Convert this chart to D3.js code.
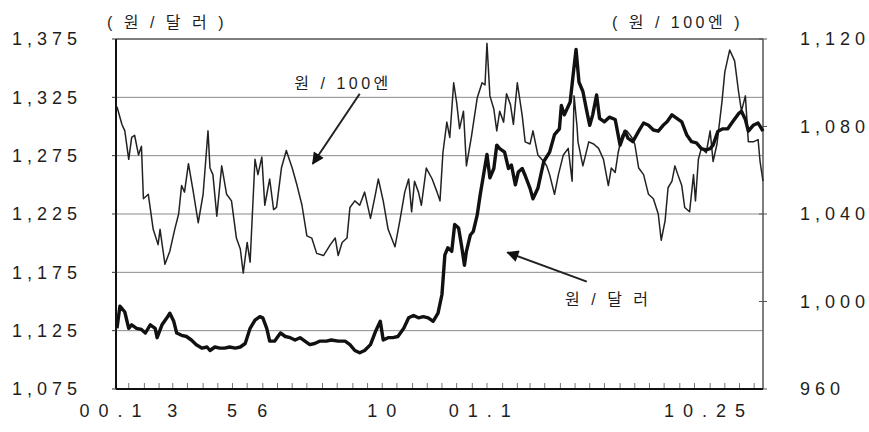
<!DOCTYPE html>
<meta charset="utf-8">
<head>
<title>원/달러, 원/100엔</title>
<script src="https://cdn.jsdelivr.net/npm/d3@7"></script>
<style>
  body { margin: 0; background: #fff; }
  text { font-family: "Liberation Sans", Arial, "Noto Sans CJK KR", sans-serif; fill: #1e1e1e; }
  .tick-label { font-size: 18px; letter-spacing: 5px; }
  .x-label { font-size: 18px; letter-spacing: 9px; }
  .unit, .note { font-size: 16px; letter-spacing: 3.5px; }
  .grid line { stroke: #8a8a8a; stroke-width: 1; }
</style>
</head>
<body>
<div id="chart"></div>
<script>
// days counted from 2000-01-03
var startDate = new Date(2000, 0, 3);
var lastDay = 661;

// 원/100엔 (right axis)
var yenDays = [1,6,9,13,16,19,23,26,28,33,38,43,45,50,55,60,64,67,70,74,79,84,89,94,96,99,103,108,113,118,
  123,127,130,134,137,142,145,149,152,157,161,164,169,174,180,185,190,195,200,205,212,219,224,227,231,236,
  239,244,249,254,260,265,268,273,278,285,290,295,299,302,305,309,312,317,323,328,331,334,338,341,345,348,
  351,355,358,363,369,374,377,379,382,386,389,392,396,399,403,406,410,415,418,423,426,431,437,440,443,448,
  452,457,462,466,468,471,472,477,483,488,493,498,503,506,510,513,517,522,527,530,534,539,544,549,554,557,
  561,564,568,571,574,578,581,586,590,592,595,598,603,607,610,614,619,622,627,632,636,639,643,646,651,656,658,661];
var yenValues = [1089,1081,1078,1065,1075,1076,1067,1071,1047,1049,1033,1026,1033,1017,1023,1033,1040,1053,1050,1063,
  1050,1036,1049,1078,1061,1058,1039,1062,1049,1046,1029,1024,1013,1027,1018,1065,1058,1066,1044,1056,1042,1043,
  1061,1069,1061,1053,1044,1030,1029,1022,1021,1026,1029,1021,1027,1029,1043,1046,1044,1050,1038,1049,1056,1046,
  1033,1025,1037,1050,1056,1041,1055,1050,1044,1061,1056,1050,1046,1068,1082,1075,1100,1091,1079,1087,1062,1075,
  1093,1100,1099,1118,1094,1088,1078,1087,1082,1095,1090,1081,1100,1085,1073,1072,1078,1067,1064,1062,1058,1049,
  1058,1067,1070,1055,1094,1080,1073,1062,1073,1072,1070,1065,1053,1061,1059,1068,1076,1078,1075,1072,1061,1058,
  1049,1047,1040,1028,1037,1052,1055,1062,1058,1053,1043,1041,1058,1046,1065,1070,1068,1078,1064,1072,1091,1105,
  1115,1110,1096,1087,1094,1073,1073,1074,1064,1055];

// 원/달러 (left axis)
var usdDays = [1,4,9,13,16,21,26,30,35,40,42,47,52,55,59,62,67,72,77,82,88,93,96,101,106,111,116,122,127,132,
  137,142,147,150,154,157,162,168,173,178,183,188,193,198,203,208,215,220,227,234,239,244,249,254,260,265,270,
  273,278,283,288,294,299,304,309,314,319,324,329,333,336,339,343,346,350,353,356,358,362,365,369,372,375,379,
  382,386,389,392,397,401,404,408,411,415,418,423,426,431,437,443,448,453,455,458,464,467,470,473,477,481,484,
  487,491,494,499,504,510,515,520,523,528,534,539,544,549,554,559,563,568,573,578,583,588,593,598,603,607,610,
  615,620,625,630,636,639,643,646,651,656,661];
var usdValues = [1127,1146,1141,1127,1130,1127,1126,1123,1130,1127,1119,1130,1136,1140,1133,1123,1121,1120,1117,1113,
  1110,1111,1108,1111,1110,1110,1111,1110,1111,1114,1127,1134,1137,1136,1127,1116,1116,1123,1120,1119,1117,1119,
  1116,1113,1114,1116,1116,1117,1116,1116,1113,1108,1106,1108,1113,1124,1133,1117,1119,1119,1120,1127,1136,1138,
  1136,1137,1136,1133,1140,1156,1190,1196,1193,1216,1213,1198,1181,1193,1207,1210,1224,1241,1256,1276,1256,1264,
  1284,1281,1278,1264,1267,1250,1261,1264,1258,1247,1238,1247,1270,1278,1293,1298,1318,1310,1321,1344,1366,1338,
  1330,1313,1301,1310,1327,1307,1304,1308,1306,1284,1296,1290,1287,1296,1303,1301,1297,1296,1301,1304,1310,1307,
  1304,1293,1287,1286,1281,1280,1281,1284,1296,1298,1298,1304,1311,1313,1306,1296,1301,1303,1296];

var leftTicks = [1075, 1125, 1175, 1225, 1275, 1325, 1375];
var rightTicks = [960, 1000, 1040, 1080, 1120];
var xLabelDates = ["2000-01-03", "2000-03-01", "2000-05-01", "2000-06-01", "2000-10-01", "2001-01-01", "2001-10-25"];
var xLabels = ["00.1", "3", "5", "6", "10", "01.1", "10.25"];

var margin = {top: 39, right: 106, bottom: 43, left: 116},
    width = 869 - margin.left - margin.right,
    height = 432 - margin.top - margin.bottom;

var svg = d3.select("#chart").append("svg")
    .attr("width", 869)
    .attr("height", 432);
var g = svg.append("g")
    .attr("transform", "translate(" + margin.left + "," + margin.top + ")");

var x = d3.scaleTime()
    .domain([startDate, d3.timeDay.offset(startDate, lastDay)])
    .range([0, width]);
var yL = d3.scaleLinear().domain([1075, 1375]).range([height, 0]);
var yR = d3.scaleLinear().domain([960, 1120]).range([height, 0]);

function day(n) { return d3.timeDay.offset(startDate, n); }

// grid
g.append("g").attr("class", "grid")
  .selectAll("line").data(leftTicks.slice(1)).enter().append("line")
    .attr("x1", 0).attr("x2", width)
    .attr("y1", function(d) { return yL(d); })
    .attr("y2", function(d) { return yL(d); });

// frame
g.append("line").attr("x1", width).attr("x2", width).attr("y1", 0).attr("y2", height)
  .attr("stroke", "#555").attr("stroke-width", 1.5);
g.append("line").attr("x1", 0).attr("x2", width).attr("y1", 0).attr("y2", 0)
  .attr("stroke", "#666").attr("stroke-width", 1.5);

// bottom minor ticks (1st and 16th of each month), pointing up
var minor = d3.timeDay.range(x.domain()[0], x.domain()[1]).filter(function(d) {
  return d.getDate() === 1 || d.getDate() === 16;
});
g.append("g").selectAll("line").data(minor).enter().append("line")
  .attr("x1", function(d) { return x(d); }).attr("x2", function(d) { return x(d); })
  .attr("y1", height).attr("y2", height - 6)
  .attr("stroke", "#777").attr("stroke-width", 1);

// left axis
g.append("line").attr("x1", 0).attr("x2", 0).attr("y1", 0).attr("y2", height)
  .attr("stroke", "#111").attr("stroke-width", 2);
g.append("g").selectAll("line").data(leftTicks).enter().append("line")
  .attr("x1", -4).attr("x2", 0)
  .attr("y1", function(d) { return yL(d); }).attr("y2", function(d) { return yL(d); })
  .attr("stroke", "#333");
g.append("g").selectAll("text").data(leftTicks).enter().append("text")
  .attr("class", "tick-label")
  .attr("x", -34).attr("y", function(d) { return yL(d); })
  .attr("dy", "0.36em")
  .attr("text-anchor", "end")
  .text(d3.format(","));

// right axis
g.append("g").selectAll("line").data(rightTicks).enter().append("line")
  .attr("x1", width - 4).attr("x2", width + 4)
  .attr("y1", function(d) { return yR(d); }).attr("y2", function(d) { return yR(d); })
  .attr("stroke", "#555");
g.append("g").selectAll("text").data(rightTicks).enter().append("text")
  .attr("class", "tick-label")
  .attr("x", width + 37).attr("y", function(d) { return yR(d); })
  .attr("dy", "0.36em")
  .text(d3.format(","));

// bottom axis
g.append("line").attr("x1", 0).attr("x2", width).attr("y1", height).attr("y2", height)
  .attr("stroke", "#111").attr("stroke-width", 2);
g.append("g").selectAll("text").data(xLabels).enter().append("text")
  .attr("class", "x-label")
  .attr("x", function(d, i) {
    var px = x(d3.timeParse("%Y-%m-%d")(xLabelDates[i]));
    if (i === 0) return px - 1;
    if (i === xLabels.length - 1) return px - 9;
    if (i === 5) return px + 12;
    return px + 4;
  })
  .attr("y", height + 28)
  .attr("text-anchor", function(d, i) { return i === xLabels.length - 1 ? "end" : "middle"; })
  .text(function(d) { return d; });

// units
g.append("text").attr("class", "unit").attr("x", -9).attr("y", -11).text("( 원 / 달 러 )");
g.append("text").attr("class", "unit").attr("x", width - 20).attr("y", -11)
  .attr("text-anchor", "end").text("( 원 / 100엔 )");

// lines
var yen = yenDays.map(function(d, i) { return {date: day(d), value: yenValues[i]}; });
var usd = usdDays.map(function(d, i) { return {date: day(d), value: usdValues[i]}; });

g.append("path").datum(yen)
  .attr("fill", "none").attr("stroke", "#222").attr("stroke-width", 1.5)
  .attr("stroke-linejoin", "round")
  .attr("d", d3.line().x(function(d) { return x(d.date); }).y(function(d) { return yR(d.value); }));
g.append("path").datum(usd)
  .attr("fill", "none").attr("stroke", "#111").attr("stroke-width", 3.4)
  .attr("stroke-linejoin", "round")
  .attr("d", d3.line().x(function(d) { return x(d.date); }).y(function(d) { return yL(d.value); }));

// annotations with arrows
svg.append("defs").append("marker")
  .attr("id", "head").attr("viewBox", "0 0 10 10")
  .attr("refX", 9).attr("refY", 5)
  .attr("markerWidth", 7).attr("markerHeight", 6)
  .attr("markerUnits", "strokeWidth")
  .attr("orient", "auto")
  .append("path").attr("d", "M0,0L10,5L0,10Z").attr("fill", "#111");

function arrow(d0, v0, d1, v1, ys) {
  g.append("line")
    .attr("x1", x(day(d0))).attr("y1", ys(v0))
    .attr("x2", x(day(d1))).attr("y2", ys(v1))
    .attr("stroke", "#222").attr("stroke-width", 2)
    .attr("marker-end", "url(#head)");
}
g.append("text").attr("class", "note")
  .attr("x", x(day(232))).attr("y", yR(1097)).attr("text-anchor", "middle")
  .text("원 / 100엔");
arrow(249, 1095, 201, 1063, yR);

g.append("text").attr("class", "note")
  .attr("x", x(day(503))).attr("y", yL(1147)).attr("text-anchor", "middle")
  .text("원 / 달 러");
arrow(481, 1167, 400, 1192, yL);
</script>
</body>
</html>
